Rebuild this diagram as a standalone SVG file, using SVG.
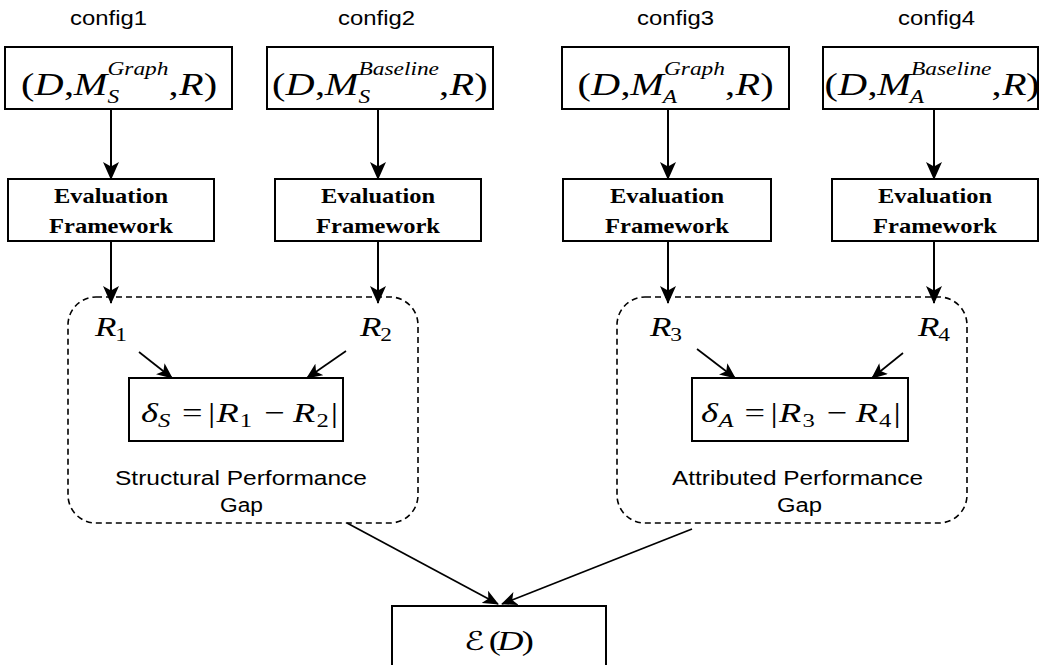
<svg xmlns="http://www.w3.org/2000/svg" width="1040" height="665" viewBox="0 0 1040 665">
<style>
.box{fill:#fff;stroke:#000;stroke-width:2}
.cont{fill:none;stroke:#000;stroke-width:1.6;stroke-dasharray:6 4}
.arr{fill:none;stroke:#000;stroke-width:2}
.arrs{fill:none;stroke:#000;stroke-width:1.7}
.lbl{font-family:"Liberation Sans",Arial,sans-serif;font-size:20px;fill:#000}
.ev{font-family:"Liberation Serif","Times New Roman",serif;font-size:22px;font-weight:bold;fill:#000}
.m{font-family:"Liberation Serif","Times New Roman",serif;font-style:italic;font-size:31px;fill:#000}
.r{font-family:"Liberation Serif","Times New Roman",serif;font-style:italic;font-size:27px;fill:#000}
.d{font-family:"Liberation Serif","Times New Roman",serif;font-style:italic;font-size:28px;fill:#000}
.s18{font-size:18px}
.s19{font-size:19px}
.u{font-style:normal}
.cal{font-family:"DejaVu Serif","DejaVu Sans",serif;font-style:normal;font-size:26px}
</style>
<defs>
<marker id="ah" markerUnits="userSpaceOnUse" viewBox="0 0 18 16" markerWidth="18" markerHeight="16" refX="17" refY="8" orient="auto">
<path d="M0,0 L18,8 L0,16 L4.5,8 Z" fill="#000"/>
</marker>
<marker id="ahs" markerUnits="userSpaceOnUse" viewBox="0 0 16 14" markerWidth="16" markerHeight="14" refX="15" refY="7" orient="auto">
<path d="M0,0 L16,7 L0,14 L4,7 Z" fill="#000"/>
</marker>
</defs>

<g id="labels">
<text class="lbl" x="70" y="25" textLength="77" lengthAdjust="spacingAndGlyphs">config1</text>
<text class="lbl" x="338" y="25" textLength="77" lengthAdjust="spacingAndGlyphs">config2</text>
<text class="lbl" x="637" y="25" textLength="77" lengthAdjust="spacingAndGlyphs">config3</text>
<text class="lbl" x="898" y="25" textLength="77" lengthAdjust="spacingAndGlyphs">config4</text>
</g>

<g id="structural-gap">
<rect class="cont" x="68" y="297" width="350" height="226" rx="28" ry="28"/>
<text class="lbl" x="115" y="485" textLength="252" lengthAdjust="spacingAndGlyphs">Structural Performance</text>
<text class="lbl" x="220" y="512" textLength="43" lengthAdjust="spacingAndGlyphs">Gap</text>
</g>
<g id="attributed-gap">
<rect class="cont" x="617" y="297" width="350" height="226" rx="28" ry="28"/>
<text class="lbl" x="672" y="485" textLength="251" lengthAdjust="spacingAndGlyphs">Attributed Performance</text>
<text class="lbl" x="777" y="512" textLength="45" lengthAdjust="spacingAndGlyphs">Gap</text>
</g>

<g id="config1">
<rect class="box" x="5" y="47" width="227" height="62"/>
<g transform="translate(21,95) scale(1.3,1)">
<text class="m"><tspan class="u" x="0" y="0">(</tspan><tspan x="10.4" y="0">D</tspan><tspan class="u" x="33" y="0">,</tspan><tspan x="40.5" y="0">M</tspan><tspan class="s18" x="66.5" y="-20">Graph</tspan><tspan class="s18" x="66.5" y="8">S</tspan><tspan class="u" x="113.5" y="0">,</tspan><tspan x="121.5" y="0">R</tspan><tspan class="u" x="140.5" y="0">)</tspan></text>
</g>
</g>
<g id="config2">
<rect class="box" x="267" y="47" width="226" height="62"/>
<g transform="translate(272,95) scale(1.3,1)">
<text class="m"><tspan class="u" x="0" y="0">(</tspan><tspan x="10.4" y="0">D</tspan><tspan class="u" x="33" y="0">,</tspan><tspan x="40.5" y="0">M</tspan><tspan class="s18" x="66.5" y="-20">Baseline</tspan><tspan class="s18" x="66.5" y="8">S</tspan><tspan class="u" x="128.5" y="0">,</tspan><tspan x="136.5" y="0">R</tspan><tspan class="u" x="155.5" y="0">)</tspan></text>
</g>
</g>
<g id="config3">
<rect class="box" x="562" y="47" width="227" height="62"/>
<g transform="translate(577.5,95) scale(1.3,1)">
<text class="m"><tspan class="u" x="0" y="0">(</tspan><tspan x="10.4" y="0">D</tspan><tspan class="u" x="33" y="0">,</tspan><tspan x="40.5" y="0">M</tspan><tspan class="s18" x="66.5" y="-20">Graph</tspan><tspan class="s18" x="65.5" y="8">A</tspan><tspan class="u" x="113.5" y="0">,</tspan><tspan x="121.5" y="0">R</tspan><tspan class="u" x="140.5" y="0">)</tspan></text>
</g>
</g>
<g id="config4">
<rect class="box" x="823" y="47" width="215" height="62"/>
<g transform="translate(824.5,95) scale(1.3,1)">
<text class="m"><tspan class="u" x="0" y="0">(</tspan><tspan x="10.4" y="0">D</tspan><tspan class="u" x="33" y="0">,</tspan><tspan x="40.5" y="0">M</tspan><tspan class="s18" x="66.5" y="-20">Baseline</tspan><tspan class="s18" x="65.5" y="8">A</tspan><tspan class="u" x="128.5" y="0">,</tspan><tspan x="136.5" y="0">R</tspan><tspan class="u" x="155" y="0">)</tspan></text>
</g>
</g>

<g id="eval1">
<rect class="box" x="8" y="179" width="206" height="62"/>
<text class="ev" x="54" y="203" textLength="114" lengthAdjust="spacingAndGlyphs">Evaluation</text>
<text class="ev" x="49" y="233" textLength="124" lengthAdjust="spacingAndGlyphs">Framework</text>
</g>
<g id="eval2">
<rect class="box" x="275" y="179" width="206" height="62"/>
<text class="ev" x="321" y="203" textLength="114" lengthAdjust="spacingAndGlyphs">Evaluation</text>
<text class="ev" x="316" y="233" textLength="124" lengthAdjust="spacingAndGlyphs">Framework</text>
</g>
<g id="eval3">
<rect class="box" x="563" y="179" width="208" height="62"/>
<text class="ev" x="610" y="203" textLength="114" lengthAdjust="spacingAndGlyphs">Evaluation</text>
<text class="ev" x="605" y="233" textLength="124" lengthAdjust="spacingAndGlyphs">Framework</text>
</g>
<g id="eval4">
<rect class="box" x="832" y="179" width="206" height="62"/>
<text class="ev" x="878" y="203" textLength="114" lengthAdjust="spacingAndGlyphs">Evaluation</text>
<text class="ev" x="873" y="233" textLength="124" lengthAdjust="spacingAndGlyphs">Framework</text>
</g>

<g id="r1"><g transform="translate(95,336) scale(1.3,1)"><text class="r"><tspan x="0" y="0">R</tspan><tspan class="u s18" x="15.5" y="5">1</tspan></text></g></g>
<g id="r2"><g transform="translate(360,336) scale(1.3,1)"><text class="r"><tspan x="0" y="0">R</tspan><tspan class="u s18" x="15.5" y="5">2</tspan></text></g></g>
<g id="r3"><g transform="translate(650,336) scale(1.3,1)"><text class="r"><tspan x="0" y="0">R</tspan><tspan class="u s18" x="15.5" y="5">3</tspan></text></g></g>
<g id="r4"><g transform="translate(918,336) scale(1.3,1)"><text class="r"><tspan x="0" y="0">R</tspan><tspan class="u s18" x="15.5" y="5">4</tspan></text></g></g>

<g id="deltaS">
<rect class="box" x="129" y="378" width="214" height="63"/>
<g transform="translate(141,422) scale(1.3,1)">
<text class="d"><tspan x="0" y="0">δ</tspan><tspan class="s19" x="13" y="5">S</tspan><tspan class="u" x="31.5" y="0">=</tspan><tspan class="u" x="51.5" y="0">|</tspan><tspan x="58" y="0">R</tspan><tspan class="u s19" x="76" y="5">1</tspan><tspan class="u" x="95" y="0">−</tspan><tspan x="117" y="0">R</tspan><tspan class="u s19" x="135" y="5">2</tspan><tspan class="u" x="146" y="0">|</tspan></text>
</g>
</g>
<g id="deltaA">
<rect class="box" x="692" y="378" width="216" height="63"/>
<g transform="translate(701,422) scale(1.3,1)">
<text class="d"><tspan x="0" y="0">δ</tspan><tspan class="s19" x="13.5" y="5">A</tspan><tspan class="u" x="33.5" y="0">=</tspan><tspan class="u" x="53.5" y="0">|</tspan><tspan x="60" y="0">R</tspan><tspan class="u s19" x="78" y="5">3</tspan><tspan class="u" x="97" y="0">−</tspan><tspan x="119" y="0">R</tspan><tspan class="u s19" x="137" y="5">4</tspan><tspan class="u" x="148" y="0">|</tspan></text>
</g>
</g>

<g id="ED">
<rect class="box" x="392" y="606" width="214" height="70"/>
<g transform="translate(464,650) scale(1.3,1)">
<text class="d"><tspan class="cal" x="0" y="0">ℰ</tspan><tspan class="u" x="19" y="0">(</tspan><tspan x="25.5" y="0">D</tspan><tspan class="u" x="44.5" y="0">)</tspan></text>
</g>
</g>

<g id="connectors">
<line class="arr" x1="111" y1="109" x2="111" y2="179" marker-end="url(#ah)"/>
<line class="arr" x1="378" y1="109" x2="378" y2="179" marker-end="url(#ah)"/>
<line class="arr" x1="668" y1="109" x2="668" y2="179" marker-end="url(#ah)"/>
<line class="arr" x1="934" y1="109" x2="934" y2="179" marker-end="url(#ah)"/>
<line class="arr" x1="111" y1="241" x2="111" y2="303" marker-end="url(#ah)"/>
<line class="arr" x1="378" y1="241" x2="378" y2="303" marker-end="url(#ah)"/>
<line class="arr" x1="668" y1="241" x2="668" y2="303" marker-end="url(#ah)"/>
<line class="arr" x1="934" y1="241" x2="934" y2="303" marker-end="url(#ah)"/>
<line class="arrs" x1="139" y1="352" x2="172" y2="378" marker-end="url(#ahs)"/>
<line class="arrs" x1="346" y1="351" x2="307" y2="378" marker-end="url(#ahs)"/>
<line class="arrs" x1="697" y1="349" x2="735" y2="378" marker-end="url(#ahs)"/>
<line class="arrs" x1="903" y1="353" x2="872" y2="378" marker-end="url(#ahs)"/>
<line class="arrs" x1="347" y1="523" x2="498" y2="604" marker-end="url(#ahs)"/>
<line class="arrs" x1="692" y1="529" x2="502" y2="604" marker-end="url(#ahs)"/>
</g>
</svg>
